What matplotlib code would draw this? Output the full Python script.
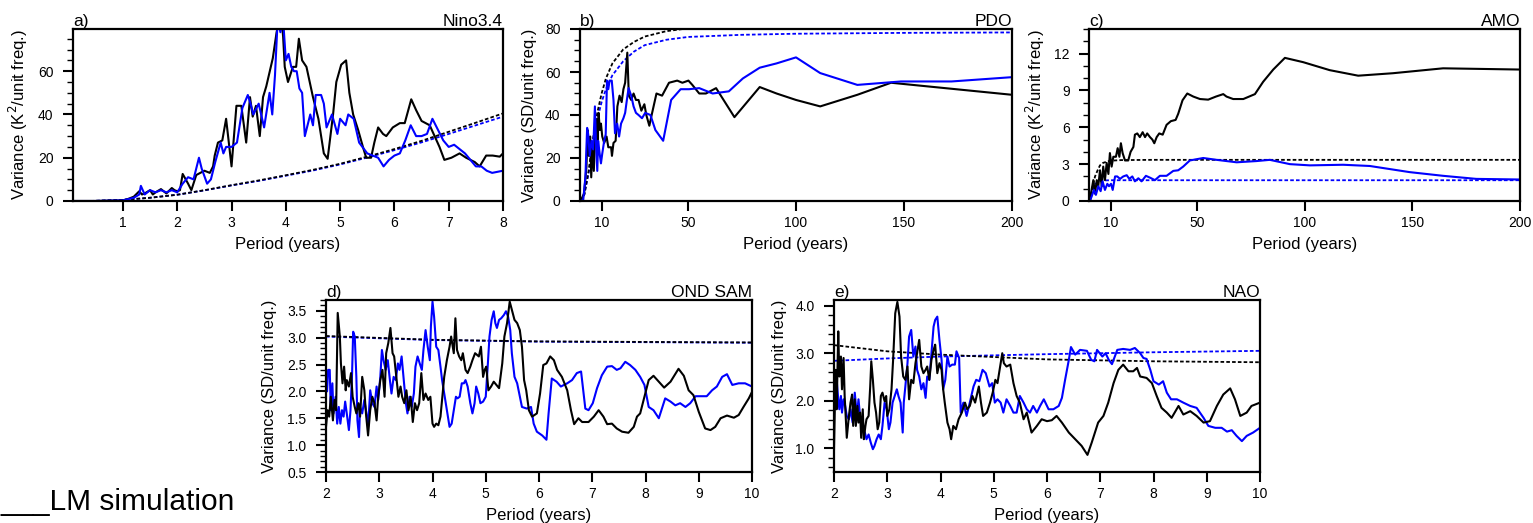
import numpy as np
import matplotlib
matplotlib.use("Agg")
import matplotlib.pyplot as plt
from matplotlib.ticker import MultipleLocator, FormatStrFormatter

plt.rcParams['font.family'] = ['Liberation Sans', 'DejaVu Sans']

BLUE = '#0000ff'

# ---- a) Nino3.4 ----
a_black_x = [0.08, 0.5, 1.0, 1.1, 1.2, 1.3, 1.35, 1.4, 1.5, 1.55, 1.6, 1.7, 1.8, 1.9, 1.95, 2.0, 2.05, 2.1,
             2.2, 2.26, 2.35, 2.5, 2.6, 2.66, 2.69, 2.75, 2.83, 2.9, 3.0, 3.09, 3.18, 3.27, 3.34, 3.39,
             3.45, 3.52, 3.58, 3.64, 3.76, 3.83, 3.88, 3.92, 3.95, 3.98, 4.04, 4.13, 4.19, 4.24, 4.3,
             4.38, 4.5, 4.6, 4.7, 4.77, 4.87, 4.93, 5.02, 5.11, 5.17, 5.24, 5.33, 5.42, 5.48, 5.57,
             5.63, 5.7, 5.79, 5.85, 5.97, 6.1, 6.19, 6.31, 6.4, 6.5, 6.65, 6.74, 6.83, 6.92, 7.05,
             7.2, 7.32, 7.48, 7.57, 7.69, 7.81, 7.94, 8.0]
a_black_y = [0, 0, 0.3, 1, 2, 4.5, 3, 3.5, 5, 3, 4, 5.5, 3.5, 6, 5, 4.5, 5, 12.5,
             8, 5, 12, 14, 13, 16, 21, 27, 28, 38, 16, 44, 44, 27, 48, 39,
             44, 30, 48, 53, 66, 78, 84, 84, 76, 62, 55, 62, 62, 75, 65,
             62, 48, 38, 22, 19.5, 40, 55, 63, 65, 50, 40, 33, 25, 20, 20,
             27, 34, 31, 30, 34, 36, 36, 47, 42, 37, 35, 30, 25, 19, 20,
             22, 20, 18, 16, 21, 21, 20.5, 22]
a_blue_x = [0.08, 0.5, 1.0, 1.2, 1.3, 1.33, 1.4, 1.5, 1.6, 1.7, 1.8, 1.9, 2.0, 2.1, 2.2, 2.3, 2.4, 2.45,
            2.55, 2.62, 2.7, 2.8, 2.85, 2.9, 3.0, 3.1, 3.2, 3.3, 3.35, 3.4, 3.5, 3.6, 3.65, 3.7, 3.75,
            3.8, 3.85, 3.9, 3.95, 4.0, 4.05, 4.1, 4.15, 4.2, 4.25, 4.3, 4.35, 4.45, 4.5, 4.55, 4.65,
            4.7, 4.75, 4.85, 4.95, 5.0, 5.1, 5.15, 5.25, 5.35, 5.5, 5.7, 5.8, 5.9, 6.0, 6.1, 6.2,
            6.3, 6.4, 6.5, 6.6, 6.7, 6.8, 6.9, 7.0, 7.1, 7.3, 7.5, 7.6, 7.7, 7.8, 8.0]
a_blue_y = [0, 0, 0.3, 1.5, 3, 7, 3, 5, 4, 5, 4, 5, 4, 8, 11, 10, 20, 15,
            8, 10, 18, 27, 22, 25, 25, 27, 43, 49, 45, 40, 45, 34, 42, 50, 40,
            58, 84, 78, 84, 65, 68, 62, 60, 60, 52, 50, 30, 40, 35, 49, 49,
            45, 34, 40, 31, 38, 35, 40, 38, 27, 22, 20, 16, 19, 21, 22, 28,
            35, 30, 30, 31, 38, 33, 28, 25, 26, 22, 16, 16, 14, 13, 14]
a_red_x = [0.4, 1.0, 1.5, 2.0, 2.5, 3.0, 3.5, 4.0, 4.5, 5.0, 5.5, 6.0, 6.5, 7.0, 7.5, 8.0]
a_red_black = [0, 0.5, 1.5, 2.9, 5.0, 7.3, 9.5, 11.9, 14.4, 17.2, 20.5, 24.0, 27.8, 32.0, 36.2, 40.5]
a_red_blue = [0, 0.5, 1.5, 2.9, 4.9, 7.2, 9.3, 11.7, 14.1, 16.9, 20.1, 23.5, 27.1, 31.0, 35.0, 39.0]

# ---- b) PDO ----
b_black_x = [0.3, 1.9, 3.0, 3.5, 4.1, 4.7, 5.2, 5.8, 6.4, 6.9, 7.7, 8.1, 8.6, 9.2, 9.7, 10.3, 11.2,
             12.3, 13.1, 14.4, 14.8, 15.5, 16.5, 17.3, 18.3, 19.3, 20.1, 20.9, 21.9, 22.6, 23.7,
             24.8, 25.9, 27.1, 28.4, 29.8, 30.7, 32.1, 33.4, 35.4, 38.0, 41.2, 45.0, 47.4, 50.2,
             52.0, 55.2, 58.3, 63.0, 71.5, 83.2, 91.0, 100.0, 111.2, 128.4, 144.0, 164.0, 200.0]
b_black_y = [0, 3.6, 16, 33, 21, 30, 11, 27, 14, 28, 38, 27, 41, 33, 36, 30, 27,
             30, 25, 25, 21, 27, 28, 44, 49, 46, 52, 55, 69, 49, 47,
             50, 47, 47, 42, 45, 40, 35, 41, 50, 49, 55, 56, 55, 56,
             54, 50, 50, 52.5, 39, 53, 50, 47, 44, 49.4, 55, 53, 49.4]
b_blue_x = [0.3, 1.5, 2.5, 3.3, 3.8, 4.5, 5.3, 6.1, 6.9, 7.4, 8.0, 8.4, 9.1, 9.7, 10.3, 11.2, 11.9,
            12.5, 13.1, 13.7, 14.7, 15.5, 16.2, 17.2, 18.1, 19.0, 20.1, 20.9, 21.7, 22.5, 23.7,
            24.8, 25.9, 27.1, 28.7, 30.2, 32.6, 34.9, 38.5, 42.2, 46.6, 50.5, 55.2, 61.4, 68.9,
            75.4, 83.2, 91.0, 100.0, 111.2, 128.4, 148.6, 172.0, 200.0]
b_blue_y = [0, 0.5, 11, 34, 31, 21, 28, 24, 44, 27, 14, 28, 22, 17.5, 22, 28, 31,
            56, 52, 56, 56, 47, 31.5, 36, 30, 36, 38.5, 41, 47, 52.5, 49,
            44, 41, 40, 38.5, 41, 40, 33, 28, 47, 52, 52, 52.5, 50, 51,
            57, 62, 64, 66.8, 59.5, 54, 55.6, 55.6, 57.6]
b_red_x = [0.5, 2, 4, 6, 8, 10, 12, 15, 20, 25, 30, 40, 50, 75, 100, 150, 200]
b_red_black = [0, 3, 14, 29, 41, 50, 57, 64, 70.5, 74, 76.5, 79, 80.3, 81.2, 81.5, 81.7, 81.8]
b_red_blue = [0, 3, 13, 27, 38, 46, 52, 58.5, 65, 69.5, 72.5, 75, 76.3, 77.3, 77.8, 78.2, 78.4]

# ---- c) AMO ----
c_black_x = [0.3, 1.2, 2.0, 2.8, 3.6, 4.3, 5.1, 5.9, 6.6, 7.4, 8.2, 9.0, 9.7, 10.5, 11.3, 12.5,
             13.3, 14.1, 14.8, 15.6, 16.7, 18.2, 19.3, 20.6, 21.3, 22.4, 23.6, 24.9, 26.0, 27.0,
             28.3, 29.4, 30.3, 31.4, 32.6, 34.2, 36.0, 38.0, 40.2, 41.4, 43.4, 45.6, 48.4, 51.5,
             55.3, 58.9, 62.3, 63.8, 66.9, 71.6, 77.0, 80.8, 85.5, 90.9, 99.4, 111.7, 124.9,
             141.0, 164.3, 200.0]
c_black_y = [0, 0.9, 1.7, 0.6, 1.7, 1.2, 2.5, 1.2, 2.8, 1.7, 3.1, 2.2, 3.9, 2.8, 3.6, 3.6,
             4.3, 3.6, 4.7, 3.9, 3.3, 3.3, 4.0, 4.4, 5.4, 5.5, 5.2, 5.6, 5.2, 5.5,
             5.2, 5.0, 4.7, 5.2, 5.5, 5.4, 6.2, 6.5, 6.6, 7.1, 8.2, 8.75, 8.5, 8.3,
             8.25, 8.5, 8.7, 8.5, 8.3, 8.3, 8.7, 9.7, 10.7, 11.65, 11.3, 10.65, 10.2,
             10.4, 10.8, 10.7]
c_blue_x = [0.3, 1.2, 2.3, 3.2, 4.3, 5.4, 6.3, 7.4, 8.5, 9.3, 10.2, 11.0, 12.1, 13.1, 14.4, 15.9,
            17.5, 18.7, 20.1, 21.3, 22.9, 24.4, 26.4, 28.3, 30.6, 32.9, 36.0, 39.1, 41.4, 43.7,
            46.8, 49.9, 53.0, 59.2, 68.5, 77.7, 83.9, 93.2, 102.5, 117.9, 130.3, 148.8, 164.3,
            179.7, 200.0]
c_blue_y = [0, 0.35, 0.9, 0.5, 1.2, 0.8, 1.6, 0.9, 1.4, 1.2, 1.4, 0.9, 2.0, 2.0, 1.8, 2.0,
            2.1, 1.8, 2.0, 1.6, 1.85, 1.6, 2.05, 1.9, 1.7, 2.05, 2.05, 2.45, 2.5, 2.8,
            3.3, 3.4, 3.5, 3.35, 3.15, 3.25, 3.35, 3.0, 2.9, 2.95, 2.85, 2.35, 2.05,
            1.8, 1.75]
c_red_x = [0.5, 1.5, 2.8, 4, 5.1, 6.5, 8.2, 10, 15, 30, 100, 200]
c_red_black = [0, 1.0, 2.0, 2.5, 2.9, 3.1, 3.2, 3.28, 3.33, 3.35, 3.35, 3.35]
c_red_blue = [0, 0.8, 1.35, 1.55, 1.63, 1.67, 1.68, 1.69, 1.69, 1.69, 1.69, 1.69]

# ---- d) OND SAM ----
d_black_x = [2.0, 2.03, 2.06, 2.09, 2.13, 2.16, 2.19, 2.22, 2.26, 2.28, 2.31, 2.34, 2.37, 2.39, 2.43,
             2.47, 2.5, 2.54, 2.57, 2.61, 2.64, 2.68, 2.72, 2.75, 2.79, 2.83, 2.87, 2.91, 2.95,
             2.98, 3.02, 3.06, 3.1, 3.13, 3.17, 3.21, 3.25, 3.28, 3.32, 3.36, 3.4, 3.43, 3.47,
             3.51, 3.55, 3.59, 3.63, 3.67, 3.71, 3.75, 3.79, 3.83, 3.87, 3.92, 3.96, 4.0, 4.03,
             4.07, 4.11, 4.15, 4.18, 4.22, 4.27, 4.32, 4.35, 4.4, 4.43, 4.46, 4.5, 4.54, 4.57,
             4.62, 4.66, 4.71, 4.75, 4.8, 4.87, 4.91, 4.95, 4.98, 5.01, 5.05, 5.1, 5.15, 5.2,
             5.25, 5.31, 5.35, 5.4, 5.45, 5.49, 5.54, 5.59, 5.64, 5.68, 5.72, 5.76, 5.81, 5.87,
             5.96, 6.02, 6.08, 6.14, 6.21, 6.28, 6.34, 6.43, 6.53, 6.6, 6.66, 6.74, 6.81, 6.93,
             7.03, 7.12, 7.21, 7.28, 7.37, 7.46, 7.56, 7.68, 7.78, 7.84, 7.9, 7.98, 8.06, 8.15,
             8.25, 8.35, 8.47, 8.62, 8.72, 8.81, 8.9, 9.0, 9.12, 9.22, 9.31, 9.41, 9.53, 9.66,
             9.75, 9.84, 9.94, 10.0]
d_black_y = [1.34, 1.65, 1.53, 1.9, 1.46, 1.84, 1.65, 3.46, 3.02, 2.52, 2.15, 2.46, 2.02, 2.21, 2.09,
             2.34, 1.9, 1.71, 1.59, 1.78, 1.53, 2.27, 2.02, 1.59, 1.18, 1.65, 1.9, 1.78, 1.46,
             1.9, 2.21, 2.4, 1.9, 2.71, 2.9, 3.18, 2.71, 2.65, 2.27, 1.9, 2.09, 1.9, 1.78,
             2.02, 1.65, 1.9, 1.43, 1.78, 1.65, 1.78, 2.34, 1.84, 1.96, 1.84, 1.9, 1.4, 1.34,
             1.4, 1.37, 1.53, 1.84, 2.27, 2.58, 2.83, 3.02, 2.71, 3.36, 2.77, 2.65, 2.58, 2.71,
             2.4, 2.34, 2.46, 2.58, 2.71, 2.65, 2.83, 2.27, 2.4, 2.46, 2.02, 2.09, 2.18, 2.12,
             2.06, 2.52, 3.02, 3.27, 3.67, 3.52, 3.33, 3.27, 3.14, 2.83, 2.21, 2.02, 1.65, 1.53,
             1.59, 1.96, 2.49, 2.52, 2.65, 2.58, 2.4, 2.27, 2.02, 1.65, 1.39, 1.5, 1.43, 1.43,
             1.53, 1.65, 1.53, 1.39, 1.4, 1.31, 1.25, 1.23, 1.34, 1.53, 1.59, 1.9, 2.21, 2.29,
             2.18, 2.07, 2.18, 2.42, 2.29, 2.02, 1.93, 1.62, 1.31, 1.28, 1.34, 1.5, 1.55, 1.51,
             1.56, 1.71, 1.87, 1.99]
d_blue_x = [2.0, 2.02, 2.04, 2.07, 2.09, 2.12, 2.14, 2.18, 2.21, 2.24, 2.27, 2.3, 2.33, 2.36, 2.39,
            2.43, 2.46, 2.49, 2.51, 2.54, 2.57, 2.59, 2.62, 2.64, 2.68, 2.72, 2.76, 2.79, 2.83,
            2.87, 2.91, 2.95, 2.98, 3.02, 3.05, 3.08, 3.12, 3.16, 3.2, 3.23, 3.27, 3.31, 3.35,
            3.38, 3.42, 3.46, 3.5, 3.53, 3.57, 3.61, 3.65, 3.68, 3.72, 3.76, 3.8, 3.83, 3.87,
            3.91, 3.95, 3.97, 4.0, 4.03, 4.07, 4.11, 4.15, 4.18, 4.22, 4.27, 4.32, 4.36, 4.4,
            4.44, 4.47, 4.51, 4.55, 4.59, 4.62, 4.66, 4.71, 4.75, 4.79, 4.82, 4.86, 4.9, 4.95,
            5.0, 5.04, 5.07, 5.11, 5.15, 5.18, 5.21, 5.25, 5.29, 5.34, 5.38, 5.42, 5.46, 5.49,
            5.54, 5.59, 5.64, 5.68, 5.77, 5.85, 5.9, 5.96, 6.06, 6.14, 6.18, 6.24, 6.33, 6.41,
            6.53, 6.62, 6.71, 6.79, 6.87, 6.93, 7.01, 7.09, 7.18, 7.28, 7.37, 7.46, 7.53, 7.62,
            7.71, 7.81, 7.9, 7.98, 8.06, 8.15, 8.25, 8.37, 8.47, 8.56, 8.65, 8.75, 8.84, 8.94,
            9.06, 9.15, 9.25, 9.34, 9.44, 9.53, 9.63, 9.75, 9.87, 10.0]
d_blue_y = [2.3, 2.0, 2.4, 2.4, 1.65, 2.15, 1.59, 1.9, 1.4, 1.71, 1.4, 1.65, 1.53, 1.81, 1.59,
            1.28, 1.65, 2.34, 3.11, 3.02, 2.27, 1.46, 1.15, 1.71, 1.59, 1.84, 1.59, 1.34, 2.02,
            1.78, 1.71, 2.09, 1.84, 2.27, 2.77, 2.58, 2.4, 2.58, 2.21, 1.96, 2.27, 2.21, 2.52,
            2.4, 2.65, 2.21, 1.78, 1.59, 1.9, 1.71, 1.96, 2.46, 2.65, 2.52, 2.4, 2.77, 3.14,
            2.83, 2.58, 3.21, 3.67, 3.39, 2.83, 2.77, 2.46, 2.21, 1.96, 1.65, 1.34, 1.4, 1.65,
            1.9, 1.87, 1.9, 2.15, 2.15, 2.21, 2.09, 1.78, 1.59, 1.78, 2.09, 1.96, 1.78, 1.81,
            1.9, 2.52, 3.02, 3.33, 3.49, 3.27, 3.18, 3.33, 3.36, 3.42, 3.49, 3.39, 3.14, 2.71,
            2.27, 2.15, 1.9, 1.71, 1.68, 1.71, 1.4, 1.25, 1.18, 1.1, 1.59, 2.24, 2.18, 2.09,
            2.15, 2.21, 2.34, 2.37, 1.68, 1.65, 1.78, 2.06, 2.3, 2.46, 2.47, 2.4, 2.43, 2.55,
            2.49, 2.4, 2.27, 2.12, 1.71, 1.65, 1.5, 1.87, 1.81, 1.74, 1.78, 1.71, 1.78, 1.91,
            1.91, 1.91, 2.02, 2.09, 2.27, 2.32, 2.12, 2.15, 2.15, 2.09]
d_red_x = [2, 4, 6, 8, 10]
d_red_black = [3.03, 2.96, 2.93, 2.92, 2.91]
d_red_blue = [3.02, 2.955, 2.925, 2.915, 2.905]

# ---- e) NAO ----
e_black_x = [2.0, 2.03, 2.05, 2.08, 2.1, 2.13, 2.15, 2.18, 2.2, 2.24, 2.28, 2.31, 2.34, 2.36, 2.39,
             2.41, 2.44, 2.46, 2.49, 2.51, 2.54, 2.56, 2.59, 2.61, 2.65, 2.68, 2.7, 2.73, 2.76,
             2.79, 2.82, 2.85, 2.88, 2.91, 2.95, 2.98, 3.0, 3.04, 3.08, 3.11, 3.15, 3.19, 3.23,
             3.26, 3.3, 3.34, 3.38, 3.41, 3.45, 3.49, 3.53, 3.56, 3.6, 3.64, 3.68, 3.72, 3.75,
             3.79, 3.83, 3.87, 3.9, 3.94, 3.98, 4.02, 4.05, 4.08, 4.13, 4.17, 4.2, 4.24, 4.29,
             4.34, 4.4, 4.46, 4.5, 4.55, 4.6, 4.65, 4.72, 4.76, 4.8, 4.87, 4.93, 4.98, 5.03,
             5.07, 5.12, 5.16, 5.19, 5.24, 5.31, 5.37, 5.43, 5.49, 5.56, 5.62, 5.71, 5.81, 5.9,
             6.0, 6.09, 6.18, 6.28, 6.41, 6.53, 6.65, 6.76, 6.84, 6.96, 7.06, 7.15, 7.25, 7.34,
             7.43, 7.53, 7.62, 7.69, 7.75, 7.87, 7.97, 8.06, 8.15, 8.25, 8.34, 8.47, 8.56, 8.69,
             8.81, 8.94, 9.06, 9.19, 9.31, 9.44, 9.53, 9.63, 9.75, 9.84, 10.0]
e_black_y = [0.98, 2.65, 1.82, 3.46, 2.51, 2.93, 2.24, 2.9, 2.1, 1.22, 1.68, 1.96, 2.13, 1.47, 2.03,
             1.47, 1.89, 1.54, 1.75, 1.22, 1.82, 1.19, 1.47, 1.61, 1.68, 2.3, 2.83, 2.44, 1.96,
             1.75, 1.4, 1.54, 2.1, 2.17, 1.99, 2.1, 1.68, 1.82, 2.24, 2.86, 3.84, 4.08, 3.77,
             2.93, 2.51, 2.44, 2.72, 2.03, 2.44, 2.37, 2.79, 3.0, 3.28, 2.72, 2.58, 2.65, 2.72,
             2.44, 2.86, 3.07, 3.18, 2.58, 2.79, 2.65, 2.24, 1.96, 1.54, 1.4, 1.19, 1.47, 1.4,
             1.61, 1.75, 1.96, 1.82, 1.89, 2.1, 1.96, 2.3, 1.96, 1.68, 1.75, 1.96, 2.17, 2.44,
             2.37, 2.72, 3.0, 2.79, 2.72, 2.76, 2.37, 2.1, 1.96, 1.61, 1.75, 1.33, 1.47, 1.61,
             1.57, 1.59, 1.68, 1.54, 1.33, 1.19, 1.05, 0.86, 1.12, 1.54, 1.68, 1.96, 2.37, 2.65,
             2.76, 2.62, 2.62, 2.69, 2.51, 2.48, 2.37, 2.1, 1.85, 1.75, 1.64, 1.89, 1.71, 1.78,
             1.68, 1.54, 1.57, 1.89, 2.13, 2.26, 2.03, 1.68, 1.75, 1.89, 1.96]
e_blue_x = [2.0, 2.03, 2.05, 2.08, 2.1, 2.13, 2.15, 2.18, 2.21, 2.24, 2.28, 2.31, 2.35, 2.39, 2.43,
            2.46, 2.5, 2.54, 2.58, 2.61, 2.65, 2.69, 2.73, 2.76, 2.8, 2.84, 2.88, 2.91, 2.95,
            2.99, 3.03, 3.06, 3.1, 3.14, 3.18, 3.21, 3.25, 3.29, 3.31, 3.34, 3.38, 3.41, 3.45,
            3.49, 3.53, 3.56, 3.6, 3.64, 3.68, 3.72, 3.75, 3.79, 3.83, 3.87, 3.9, 3.94, 3.98,
            4.02, 4.05, 4.09, 4.13, 4.17, 4.22, 4.27, 4.3, 4.35, 4.38, 4.43, 4.49, 4.55, 4.62,
            4.67, 4.73, 4.79, 4.85, 4.92, 4.97, 5.02, 5.07, 5.13, 5.18, 5.24, 5.31, 5.37, 5.43,
            5.49, 5.56, 5.62, 5.68, 5.74, 5.81, 5.87, 5.94, 6.03, 6.12, 6.22, 6.28, 6.34, 6.41,
            6.45, 6.53, 6.62, 6.75, 6.83, 6.89, 6.94, 7.04, 7.1, 7.16, 7.22, 7.32, 7.43, 7.56,
            7.65, 7.75, 7.81, 7.87, 7.94, 8.0, 8.1, 8.18, 8.25, 8.33, 8.44, 8.56, 8.69, 8.81,
            8.94, 9.03, 9.16, 9.28, 9.38, 9.47, 9.56, 9.66, 9.75, 9.87, 10.0]
e_blue_y = [2.51, 1.89, 2.44, 2.03, 1.82, 2.1, 1.75, 2.03, 1.89, 1.68, 1.61, 1.82, 1.54, 2.17, 1.68,
            2.03, 1.54, 1.4, 1.33, 1.19, 1.29, 1.12, 0.98, 1.05, 1.19, 1.29, 1.19, 1.47, 1.96,
            1.82, 1.4, 1.54, 1.96, 2.1, 2.24, 2.1, 1.96, 1.33, 1.96, 2.3, 2.79, 3.35, 3.49,
            2.93, 3.14, 2.65, 2.51, 2.24, 2.37, 2.06, 2.51, 2.44, 3.0, 3.56, 3.7, 3.77, 3.28,
            2.86, 2.24, 2.44, 2.93, 2.72, 2.76, 2.76, 3.04, 2.9, 1.75, 1.96, 1.68, 1.96, 2.3,
            2.44, 2.41, 2.65, 2.58, 2.3, 2.37, 1.96, 2.03, 1.96, 1.75, 2.03, 1.89, 1.75, 1.75,
            2.1, 1.96, 1.82, 1.75, 1.89, 1.75, 1.89, 2.03, 1.82, 1.82, 1.89, 2.06, 2.44, 2.86,
            3.13, 2.97, 3.07, 3.05, 2.86, 2.83, 3.07, 2.93, 3.0, 2.86, 2.77, 3.07, 3.09, 3.07,
            3.11, 3.0, 2.9, 2.88, 2.65, 2.41, 2.34, 2.41, 2.17, 2.03, 2.03, 1.96, 1.89, 1.85,
            1.64, 1.47, 1.43, 1.43, 1.35, 1.38, 1.26, 1.15, 1.26, 1.33, 1.43]
e_red_x = [2, 3, 4, 6, 8, 10]
e_red_black = [3.17, 3.04, 2.97, 2.87, 2.83, 2.81]
e_red_blue = [2.84, 2.89, 2.93, 2.98, 3.02, 3.05]

# panel settings
letters = ['a)', 'b)', 'c)', 'd)', 'e)']
names = ['Nino3.4', 'PDO', 'AMO', 'OND SAM', 'NAO']
ylabels = ['Variance (K$^2$/unit freq.)', 'Variance (SD/unit freq.)', 'Variance (K$^2$/unit freq.)',
           'Variance (SD/unit freq.)', 'Variance (SD/unit freq.)']

fig = plt.figure(figsize=(15.33, 5.23), dpi=100)

W, H = 1533.0, 523.0
boxes = [(73, 29, 503, 201), (580, 29, 1012, 201), (1089, 29, 1520, 201),
         (326, 300, 752, 472), (834, 300, 1260, 472)]
ylab_x = [30, 537, 1047, 277, 787]   # right edge of the y label, pixels
axes = []
for (l, t, r, b) in boxes:
    axes.append(fig.add_axes([l / W, 1 - b / H, (r - l) / W, (b - t) / H]))

data = [
    (a_black_x, a_black_y, a_blue_x, a_blue_y, a_red_x, a_red_black, a_red_x, a_red_blue),
    (b_black_x, b_black_y, b_blue_x, b_blue_y, b_red_x, b_red_black, b_red_x, b_red_blue),
    (c_black_x, c_black_y, c_blue_x, c_blue_y, c_red_x, c_red_black, c_red_x, c_red_blue),
    (d_black_x, d_black_y, d_blue_x, d_blue_y, d_red_x, d_red_black, d_red_x, d_red_blue),
    (e_black_x, e_black_y, e_blue_x, e_blue_y, e_red_x, e_red_black, e_red_x, e_red_blue),
]

xlims = [(0.08, 8), (0, 200), (0, 200), (2, 10), (2, 10)]
ylims = [(0, 79.5), (0, 80), (0, 14), (0.5, 3.7), (0.5, 4.12)]
xticks = [range(1, 9), [10, 50, 100, 150, 200], [10, 50, 100, 150, 200], range(2, 11), range(2, 11)]
ymaj = [20, 20, 3, 0.5, 1.0]
ymin = [5, 5, 1, 0.1, 0.2]
yfmt = ['%d', '%d', '%d', '%.1f', '%.1f']

for i, ax in enumerate(axes):
    bx, by, ux, uy, rbx, rby, rux, ruy = data[i]
    ax.plot(rux, ruy, color=BLUE, lw=1.3, ls=(0, (2, 1.2)))
    ax.plot(rbx, rby, color='black', lw=1.3, ls=(0, (2, 1.2)))
    if i in (3, 4):
        ax.plot(ux, uy, color=BLUE, lw=1.5)
        ax.plot(bx, by, color='black', lw=1.5)
    else:
        ax.plot(bx, by, color='black', lw=1.5)
        ax.plot(ux, uy, color=BLUE, lw=1.5)
    ax.set_xlim(*xlims[i])
    ax.set_ylim(*ylims[i])
    ax.set_xticks(list(xticks[i]))
    ax.yaxis.set_major_locator(MultipleLocator(ymaj[i]))
    ax.yaxis.set_minor_locator(MultipleLocator(ymin[i]))
    ax.yaxis.set_major_formatter(FormatStrFormatter(yfmt[i]))
    ax.tick_params(axis='both', which='major', direction='out', length=7, width=1.5,
                   labelsize=10, top=False, right=False)
    ax.tick_params(axis='y', which='major', pad=7)
    ax.tick_params(axis='x', which='major', pad=4)
    ax.tick_params(axis='y', which='minor', direction='out', length=4, width=1.0)
    for s in ax.spines.values():
        s.set_linewidth(1.6)
    ax.set_xlabel('Period (years)', fontsize=12, labelpad=5)
    ax.set_ylabel(ylabels[i], fontsize=12)
    l, t, r, b = boxes[i]
    ax.yaxis.set_label_coords((ylab_x[i] - l) / (r - l), 0.5)
    ax.set_title(letters[i], loc='left', fontsize=12.5, pad=0)
    ax.set_title(names[i], loc='right', fontsize=12.5, pad=-2)

fig.text(0.0, 0.025, '___LM simulation', fontsize=21.5, ha='left', va='baseline')

fig.savefig('out.png', dpi=100)
